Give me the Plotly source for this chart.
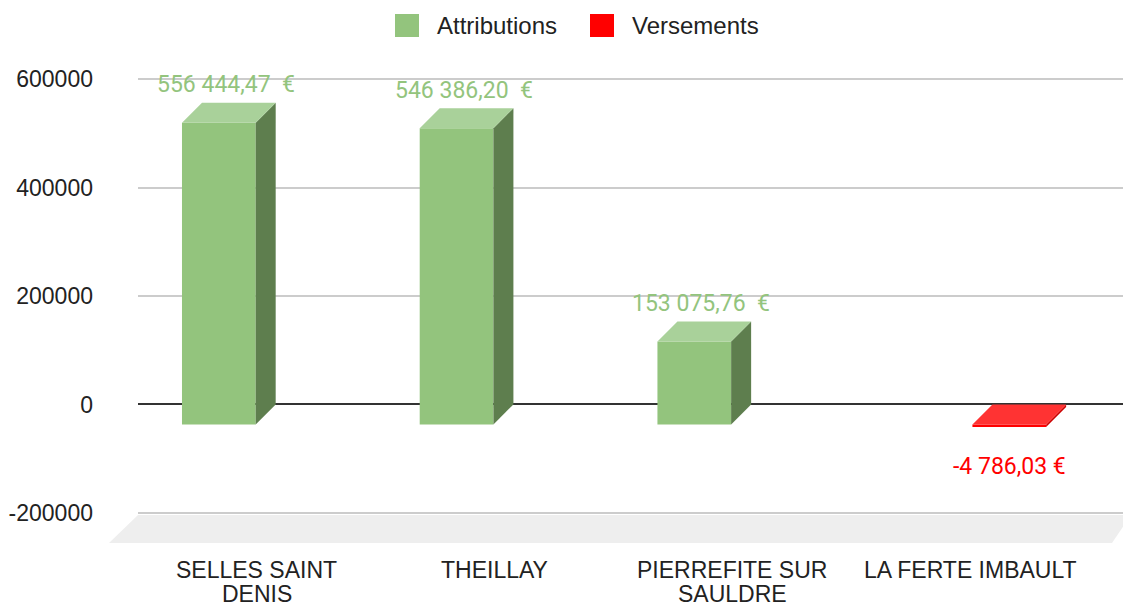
import plotly.graph_objects as go

# ---------------- data ----------------
categories = ["SELLES SAINT<br>DENIS", "THEILLAY", "PIERREFITE SUR<br>SAULDRE", "LA FERTE IMBAULT"]
attributions = [556444.47, 546386.20, 153075.76, None]
versements = [None, None, None, -4786.03]
y_tick_values = [-200000, 0, 200000, 400000, 600000]
series_names = ["Attributions", "Versements"]

# ---------------- layout constants (page pixels) ----------------
PAGE_W, PAGE_H = 1131, 607
BODY_OFF = 8                         # default body margin of the html page
FIG_W, FIG_H = PAGE_W - BODY_OFF, PAGE_H - BODY_OFF
PLOT_L, PLOT_R, PLOT_T, PLOT_B = 138, 1131, 52, 514   # plot area in page pixels
X_RANGE = [-0.5, 3.677]
Y_RANGE = [-202000, 650000]
plot_w = PLOT_R - PLOT_L
plot_h = PLOT_B - PLOT_T
ux = (X_RANGE[1] - X_RANGE[0]) / plot_w   # x units per pixel
uy = (Y_RANGE[1] - Y_RANGE[0]) / plot_h   # y units per pixel

DEPTH_PX = 20
DX = DEPTH_PX * ux
DY = DEPTH_PX * uy
BAR_W = 0.31

AXIS_FONT = "Liberation Sans, Arial, sans-serif"
LABEL_FONT = "Roboto, sans-serif"


def px_x(p):
    return (p - PLOT_L) / plot_w


def px_y(p):
    return (PLOT_B - p) / plot_h


def fmt_eur(v, suffix):
    s = f"{abs(v):,.2f}".replace(",", " ").replace(".", ",").replace(" ", "\u00a0")
    return ("-" if v < 0 else "") + s + suffix


styles = [
    dict(values=attributions, offset=-0.315, front="#93c47d", top="#a9d19a", side="#5e7e4e",
         label="#93c47d", suffix="\u00a0\u00a0€", lab_dx=7, lab_pos=18, lab_neg=-59),
    dict(values=versements, offset=0.01, front="#ff0000", top="#ff3333", side="#cc0000",
         label="#ff0000", suffix="\u00a0€", lab_dx=0, lab_pos=18, lab_neg=-59),
]

fig = go.Figure()
annotations = []
xs = list(range(len(categories)))

for name, st in zip(series_names, styles):
    # front faces of the 3D bars
    fig.add_trace(go.Bar(
        x=xs, y=st["values"], base=-DY, offset=st["offset"], width=BAR_W,
        name=name, marker=dict(color=st["front"], line=dict(width=0)),
        showlegend=False, hoverinfo="skip"))

for name, st in zip(series_names, styles):
    for i, v in enumerate(st["values"]):
        if v is None:
            continue
        x0 = i + st["offset"]
        x1 = x0 + BAR_W
        t = max(v, 0)
        b = min(v, 0)
        # side face
        fig.add_trace(go.Scatter(
            x=[x1, x1 + DX, x1 + DX, x1, x1], y=[b - DY, b, t, t - DY, b - DY],
            mode="lines", fill="toself", fillcolor=st["side"],
            line=dict(width=0, color=st["side"]), showlegend=False, hoverinfo="skip"))
        # top face
        fig.add_trace(go.Scatter(
            x=[x0, x1, x1 + DX, x0 + DX, x0], y=[t - DY, t - DY, t, t, t - DY],
            mode="lines", fill="toself", fillcolor=st["top"],
            line=dict(width=0, color=st["top"]), showlegend=False, hoverinfo="skip"))
        # value label
        annotations.append(dict(
            x=(x0 + x1) / 2, y=v, xref="x", yref="y", text=fmt_eur(v, st["suffix"]),
            showarrow=False, xanchor="center", yanchor="middle",
            xshift=st["lab_dx"], yshift=st["lab_pos"] if v >= 0 else st["lab_neg"],
            font=dict(family=LABEL_FONT, size=23, color=st["label"])))

# category labels (one annotation per line, tight line spacing)
CAT_LINE1_Y, CAT_LINE_GAP = 570, 24
for i, cat in enumerate(categories):
    for j, line in enumerate(cat.split("<br>")):
        annotations.append(dict(
            x=i, y=px_y(CAT_LINE1_Y + j * CAT_LINE_GAP), xref="x", yref="paper",
            text=line, showarrow=False, xanchor="center", yanchor="middle",
            font=dict(family=AXIS_FONT, size=23, color="#222222")))

# floor (decorative 3D base)
floor_path = "M {} {} L {} {} L {} {} L {} {} Z".format(
    px_x(138), px_y(515), px_x(1131), px_y(515), px_x(1112), px_y(543), px_x(109), px_y(543))
shapes = [dict(type="path", path=floor_path, xref="paper", yref="paper",
               fillcolor="#eeeeee", line=dict(width=0), layer="below")]

# manual legend
leg_items = [(395, 435), (590, 630)]
for (sq_x, tx_x), name, st in zip(leg_items, series_names, styles):
    shapes.append(dict(type="rect", xref="paper", yref="paper",
                       x0=px_x(sq_x), x1=px_x(sq_x + 24), y0=px_y(37), y1=px_y(14),
                       fillcolor=st["front"], line=dict(width=0)))
    annotations.append(dict(x=px_x(tx_x), y=px_y(25.5), xref="paper", yref="paper",
                            text=name, showarrow=False, xanchor="left", yanchor="middle",
                            font=dict(family=AXIS_FONT, size=24, color="#222222")))

fig.update_layout(
    width=FIG_W, height=FIG_H,
    margin=dict(l=PLOT_L - BODY_OFF, r=PAGE_W - PLOT_R, t=PLOT_T - BODY_OFF,
                b=PAGE_H - PLOT_B, pad=0, autoexpand=False),
    paper_bgcolor="white", plot_bgcolor="white",
    barmode="overlay", showlegend=False,
    shapes=shapes, annotations=annotations,
    xaxis=dict(range=X_RANGE, tickmode="array", tickvals=xs, ticktext=[""] * len(xs),
               showticklabels=False, automargin=False,
               showgrid=False, zeroline=False, showline=False, ticks=""),
    yaxis=dict(range=Y_RANGE, tickmode="array", tickvals=y_tick_values,
               ticktext=[str(v) for v in y_tick_values], automargin=False,
               showgrid=True, gridcolor="#cccccc", gridwidth=2,
               zeroline=True, zerolinecolor="#333333", zerolinewidth=2,
               showline=False, ticks="",
               tickfont=dict(family=AXIS_FONT, size=23, color="#222222"),
               ticklabelstandoff=44),
)

fig.write_html("out.html")
